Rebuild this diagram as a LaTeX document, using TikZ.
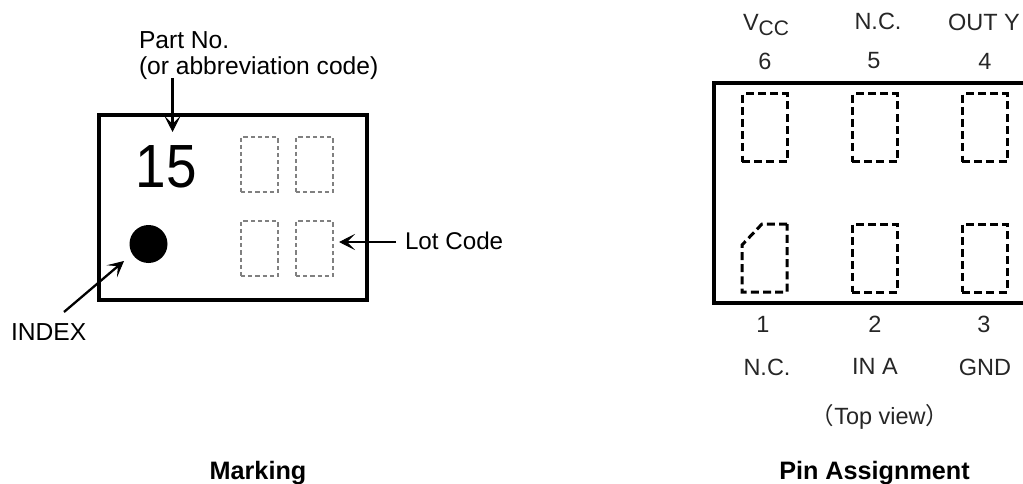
\documentclass[tikz,border=0pt]{standalone}
\usepackage{fontspec}
\setmainfont{Liberation Sans}
\newfontfamily\cjkfont{Noto Sans CJK JP}
\usetikzlibrary{arrows.meta}
\tikzset{
  x=1pt,y=-1pt,
  lbl/.style={anchor=base,inner sep=0pt,outer sep=0pt,font=\fontsize{24.6}{28}\selectfont},
  lbll/.style={lbl,anchor=base west},
  lblg/.style={lbl,text=black!85,font=\fontsize{23.5}{27}\selectfont},
  head/.style={lbl,font=\fontsize{25.2}{29}\selectfont\bfseries},
  body/.style={draw=black,line width=3.2pt,inner sep=0pt,outer sep=0pt,anchor=north west},
  lotpad/.style={draw=black!50,line width=1.3pt,dash pattern=on 4.2pt off 3pt,inner sep=0pt,outer sep=0pt,minimum width=37pt,minimum height=55pt,anchor=north west},
  pinpad/.style={draw=black,line width=3pt,dash pattern=on 8pt off 4.2pt,inner sep=0pt,outer sep=0pt,minimum width=45pt,minimum height=68pt,anchor=north west},
  callout/.style={draw=black,line width=2.3pt,-{Stealth[length=16pt,width=16pt,inset=8pt,fill=black,line width=1pt]}},
}
\begin{document}
\begin{tikzpicture}
\useasboundingbox (0,0) rectangle (1023,484);
% Marking
\node[body,minimum width=268pt,minimum height=185pt] (pkg) at (99,115) {};
\node[lotpad] (lotA) at (241,137) {};
\node[lotpad] (lotB) at (296,137) {};
\node[lotpad] (lotC) at (241,221) {};
\node[lotpad] (lotD) at (296,221) {};
\node[circle,fill=black,minimum size=38pt,inner sep=0pt,outer sep=0pt] (dot) at (148.5,244) {};
\node[lbl,anchor=base west,font=\fontsize{61}{70}\selectfont,xscale=0.9] (mark) at (135.5,187.5) {15};
\node[lbll] (part1) at (139,49) {Part No.};
\node[lbll] (part2) at (139,75) {(or abbreviation code)};
\node[lbll,font=\fontsize{24.2}{28}\selectfont] (lot) at (405,249) {Lot Code};
\node[lbll] (index) at (11,340) {INDEX};
\node[head] (mk) at (258,479) {Marking};
\coordinate (partS) at (172.5,78);
\coordinate (partE) at (172.5,132);
\coordinate (lotS) at (396,242);
\coordinate (lotE) at (339,242);
\coordinate (idxS) at (64,312);
\coordinate (idxE) at (124,261);
\draw[callout] (partS) -- (partE);
\draw[callout] (lotS) -- (lotE);
\draw[callout] (idxS) -- (idxE);
% Pin assignment
\coordinate (boxTL) at (714,83);
\coordinate (boxTR) at (1030,83);
\coordinate (boxBL) at (714,303);
\coordinate (boxBR) at (1030,303);
\draw[line width=3.4pt,line join=miter] (boxTR) -- (boxTL) -- (boxBL) -- (boxBR);
\node[pinpad] (p6) at (742,94) {};
\node[pinpad] (p5) at (852,94) {};
\node[pinpad] (p4) at (962,94) {};
\node[pinpad] (p2) at (852,224) {};
\node[pinpad] (p3) at (962,224) {};
\draw[line width=3pt,dash pattern=on 8pt off 4.2pt] (787,224) -- (762,224) -- (742,245) -- (742,292) -- (787,292) -- cycle;
\node[lblg,anchor=base west] (vcc) at (743,31) {V\raisebox{-5pt}{\fontsize{21}{24}\selectfont CC}};
\node[lblg] (nc5) at (878,30) {N.C.};
\node[lblg] (outy) at (984,31) {OUT Y};
\node[lblg] (n6) at (765,70) {6};
\node[lblg] (n5) at (874,69) {5};
\node[lblg] (n4) at (985,70) {4};
\node[lblg] (n1) at (763,332) {1};
\node[lblg] (n2) at (875,332) {2};
\node[lblg] (n3) at (984,332) {3};
\node[lblg] (nc1) at (767,375) {N.C.};
\node[lblg] (ina) at (875,374) {IN A};
\node[lblg] (gnd) at (985,375) {GND};
\node[lblg] (top) at (880,424) {{\cjkfont （}Top view{\cjkfont ）}};
\node[head] (pa) at (874.5,479) {Pin Assignment};
\end{tikzpicture}
\end{document}
